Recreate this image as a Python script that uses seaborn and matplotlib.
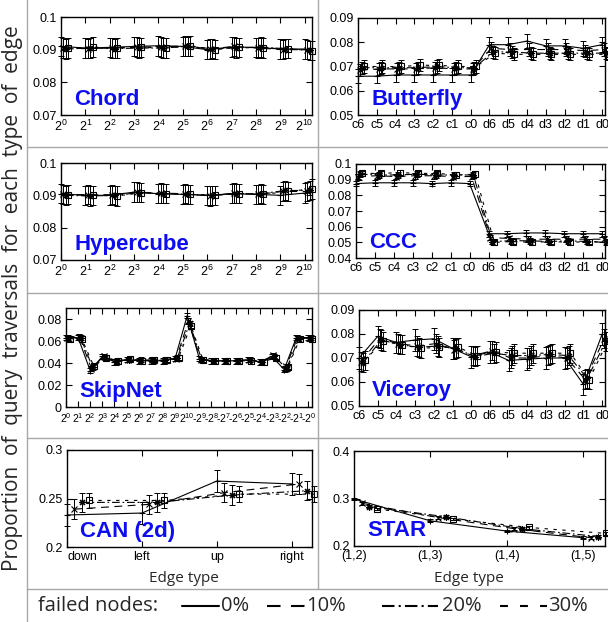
import numpy as np
import pandas as pd
import matplotlib
matplotlib.use("Agg")
import matplotlib.pyplot as plt
import seaborn as sns
from matplotlib.lines import Line2D

# ============================
# Data
# ============================

series_names = ["0%", "10%", "20%", "30%"]

pow2_labels = [r"$2^{0}$", r"$2^{1}$", r"$2^{2}$", r"$2^{3}$", r"$2^{4}$", r"$2^{5}$",
               r"$2^{6}$", r"$2^{7}$", r"$2^{8}$", r"$2^{9}$", r"$2^{10}$"]
skipnet_labels = [r"$2^{0}$", r"$2^{1}$", r"$2^{2}$", r"$2^{3}$", r"$2^{4}$", r"$2^{5}$",
                  r"$2^{6}$", r"$2^{7}$", r"$2^{8}$", r"$2^{9}$", r"$2^{10}$",
                  r"-$2^{9}$", r"-$2^{8}$", r"-$2^{7}$", r"-$2^{6}$", r"-$2^{5}$",
                  r"-$2^{4}$", r"-$2^{3}$", r"-$2^{2}$", r"-$2^{1}$", r"-$2^{0}$"]
cd_labels = ["c6", "c5", "c4", "c3", "c2", "c1", "c0", "d6", "d5", "d4", "d3", "d2", "d1", "d0"]
can_labels = ["down", "left", "up", "right"]
star_labels = ["(1,2)", "(1,3)", "(1,4)", "(1,5)"]

chord_vals = [
    [0.0910, 0.0905, 0.0907, 0.0910, 0.0912, 0.0910, 0.0900, 0.0908, 0.0907, 0.0902, 0.0902],
    [0.0905, 0.0903, 0.0905, 0.0908, 0.0908, 0.0912, 0.0902, 0.0910, 0.0905, 0.0900, 0.0900],
    [0.0902, 0.0905, 0.0903, 0.0905, 0.0905, 0.0910, 0.0903, 0.0905, 0.0908, 0.0903, 0.0898],
    [0.0905, 0.0908, 0.0905, 0.0907, 0.0905, 0.0912, 0.0900, 0.0907, 0.0905, 0.0903, 0.0897],
]
chord_err = [0.003, 0.003, 0.003, 0.003]

hypercube_vals = [
    [0.0905, 0.0900, 0.0900, 0.0910, 0.0905, 0.0903, 0.0900, 0.0905, 0.0903, 0.0900, 0.0907],
    [0.0903, 0.0902, 0.0902, 0.0910, 0.0907, 0.0905, 0.0898, 0.0907, 0.0903, 0.0912, 0.0912],
    [0.0900, 0.0898, 0.0900, 0.0908, 0.0905, 0.0903, 0.0900, 0.0905, 0.0905, 0.0915, 0.0915],
    [0.0902, 0.0900, 0.0898, 0.0908, 0.0905, 0.0903, 0.0900, 0.0905, 0.0903, 0.0912, 0.0920],
]
hypercube_err = [0.003, 0.003, 0.003, 0.003]

butterfly_vals = [
    [0.0660, 0.0660, 0.0665, 0.0665, 0.0665, 0.0665, 0.0665, 0.0790, 0.0790, 0.0805, 0.0785, 0.0785, 0.0775, 0.0790],
    [0.0685, 0.0690, 0.0690, 0.0690, 0.0695, 0.0690, 0.0690, 0.0775, 0.0770, 0.0770, 0.0770, 0.0770, 0.0765, 0.0770],
    [0.0695, 0.0695, 0.0695, 0.0695, 0.0700, 0.0695, 0.0695, 0.0760, 0.0760, 0.0755, 0.0755, 0.0755, 0.0755, 0.0755],
    [0.0700, 0.0700, 0.0700, 0.0705, 0.0705, 0.0700, 0.0700, 0.0755, 0.0750, 0.0750, 0.0750, 0.0750, 0.0750, 0.0750],
]
butterfly_err = [0.003, 0.0025, 0.0025, 0.0025]

ccc_vals = [
    [0.0875, 0.0880, 0.0880, 0.0880, 0.0875, 0.0880, 0.0875, 0.0555, 0.0555, 0.0560, 0.0560, 0.0555, 0.0555, 0.0555],
    [0.0920, 0.0925, 0.0920, 0.0925, 0.0925, 0.0920, 0.0920, 0.0530, 0.0525, 0.0520, 0.0520, 0.0520, 0.0520, 0.0520],
    [0.0935, 0.0930, 0.0930, 0.0935, 0.0930, 0.0930, 0.0930, 0.0505, 0.0510, 0.0510, 0.0505, 0.0510, 0.0505, 0.0500],
    [0.0940, 0.0940, 0.0945, 0.0940, 0.0940, 0.0930, 0.0935, 0.0500, 0.0505, 0.0500, 0.0505, 0.0500, 0.0505, 0.0500],
]
ccc_err = [0.0018, 0.0018, 0.0018, 0.0018]

skipnet_vals = [
    [0.063, 0.063, 0.033, 0.046, 0.041, 0.043, 0.042, 0.042, 0.042, 0.044, 0.083,
     0.044, 0.042, 0.042, 0.042, 0.043, 0.041, 0.046, 0.034, 0.063, 0.063],
    [0.063, 0.064, 0.035, 0.046, 0.041, 0.043, 0.042, 0.043, 0.042, 0.044, 0.078,
     0.043, 0.042, 0.042, 0.042, 0.043, 0.041, 0.047, 0.035, 0.063, 0.063],
    [0.063, 0.063, 0.036, 0.045, 0.042, 0.043, 0.043, 0.042, 0.043, 0.045, 0.076,
     0.043, 0.042, 0.042, 0.042, 0.043, 0.041, 0.046, 0.035, 0.062, 0.063],
    [0.062, 0.062, 0.037, 0.045, 0.042, 0.044, 0.042, 0.043, 0.043, 0.045, 0.074,
     0.043, 0.042, 0.042, 0.042, 0.042, 0.041, 0.045, 0.036, 0.062, 0.062],
]
skipnet_err = [0.0025, 0.0025, 0.0025, 0.0025]

viceroy_vals = [
    [0.0700, 0.0790, 0.0765, 0.0775, 0.0780, 0.0740, 0.0705, 0.0725, 0.0690, 0.0695, 0.0700, 0.0700, 0.0590, 0.0800],
    [0.0685, 0.0780, 0.0760, 0.0750, 0.0760, 0.0735, 0.0710, 0.0730, 0.0700, 0.0700, 0.0710, 0.0700, 0.0610, 0.0780],
    [0.0680, 0.0775, 0.0755, 0.0745, 0.0750, 0.0740, 0.0705, 0.0720, 0.0710, 0.0710, 0.0715, 0.0710, 0.0615, 0.0770],
    [0.0690, 0.0770, 0.0755, 0.0740, 0.0745, 0.0745, 0.0710, 0.0725, 0.0720, 0.0720, 0.0720, 0.0720, 0.0610, 0.0770],
]
viceroy_err = [0.0045, 0.004, 0.004, 0.004]

can_vals = [
    [0.233, 0.235, 0.268, 0.265],
    [0.239, 0.244, 0.256, 0.265],
    [0.246, 0.246, 0.2535, 0.258],
    [0.248, 0.248, 0.2545, 0.2545],
]
can_err = [0.011, 0.01, 0.01, 0.008]

star_vals = [
    [0.299, 0.253, 0.2315, 0.2175],
    [0.290, 0.260, 0.2365, 0.2175],
    [0.283, 0.2615, 0.2365, 0.220],
    [0.278, 0.257, 0.239, 0.2265],
]
star_err = [0.003, 0.003, 0.003, 0.003]

# ============================
# Styling
# ============================

W, H = 608, 622
X_SHIFT = [0.0, 0.1, 0.2, 0.3]
LINE_STYLES = ["-", (0, (7, 5)), (0, (7, 2.5, 1.5, 2.5)), (0, (3, 5))]
MARKERS = ["+", "x", (8, 2, 0), "s"]
TITLE_BLUE = "#0d0df0"
GRID_GRAY = "#a8a8a8"

sns.set_theme(style="ticks")
plt.rcParams["font.family"] = ["Liberation Sans", "DejaVu Sans"]
plt.rcParams["mathtext.default"] = "regular"
plt.rcParams["axes.linewidth"] = 1.0

fig = plt.figure(figsize=(W / 100, H / 100), dpi=100)


def px_axes(left, top, right, bottom):
    """Add an axes given its box in pixel coordinates (origin top-left)."""
    return fig.add_axes([left / W, 1 - bottom / H, (right - left) / W, (bottom - top) / H])


def fmt_num(v, pos):
    return f"{round(v, 4):g}"


def draw_panel(box, name, labels, vals, errs, ylim, yticks, xmax, xlabelsize=9):
    ax = px_axes(*box)
    base = np.arange(len(labels))
    for i, series in enumerate(series_names):
        x = base + X_SHIFT[i]
        df = pd.DataFrame({"x": x, "y": vals[i]})
        sns.lineplot(data=df, x="x", y="y", ax=ax, color="black", linewidth=0.8,
                     linestyle=LINE_STYLES[i], marker=MARKERS[i], markersize=5,
                     mfc="none", mec="black", mew=0.8, errorbar=None,
                     legend=False, clip_on=False)
        ax.errorbar(x, vals[i], yerr=errs[i], fmt="none", ecolor="black",
                    elinewidth=0.7, capsize=2.2, capthick=0.7, clip_on=False)
    ax.set_xlim(0, xmax)
    ax.set_ylim(*ylim)
    ax.set_yticks(yticks)
    ax.yaxis.set_major_formatter(plt.FuncFormatter(fmt_num))
    ax.set_xticks(base)
    ax.set_xticklabels(labels)
    ax.set_xlabel("")
    ax.set_ylabel("")
    ax.tick_params(direction="in", top=True, right=True, length=4, width=0.8,
                   labelsize=9, pad=3, colors="black")
    ax.tick_params(axis="x", labelsize=xlabelsize)
    for s in ax.spines.values():
        s.set_color("black")
    ax.annotate(name, xy=(0, 0), xycoords="axes fraction", xytext=(9.5, 7.5),
                textcoords="offset points", fontsize=16, fontweight="bold",
                color=TITLE_BLUE, ha="left", va="baseline")
    return ax


draw_panel((61, 17, 312, 115), "Chord", pow2_labels, chord_vals, chord_err,
           (0.07, 0.1), [0.07, 0.08, 0.09, 0.1], 10.3)
draw_panel((358, 18, 605, 115), "Butterfly", cd_labels, butterfly_vals, butterfly_err,
           (0.05, 0.09), [0.05, 0.06, 0.07, 0.08, 0.09], 13.15)
draw_panel((61, 163, 312, 260), "Hypercube", pow2_labels, hypercube_vals, hypercube_err,
           (0.07, 0.1), [0.07, 0.08, 0.09, 0.1], 10.3)
draw_panel((356, 164, 605, 258), "CCC", cd_labels, ccc_vals, ccc_err,
           (0.04, 0.1), [0.04, 0.05, 0.06, 0.07, 0.08, 0.09, 0.1], 13.15)
draw_panel((66, 308, 312, 407), "SkipNet", skipnet_labels, skipnet_vals, skipnet_err,
           (0, 0.09), [0, 0.02, 0.04, 0.06, 0.08], 20.3, xlabelsize=7.5)
draw_panel((359, 310, 605, 406), "Viceroy", cd_labels, viceroy_vals, viceroy_err,
           (0.05, 0.09), [0.05, 0.06, 0.07, 0.08, 0.09], 13.15)
ax_can = draw_panel((67, 450, 312, 547), "CAN (2d)", can_labels, can_vals, can_err,
                    (0.2, 0.3), [0.2, 0.25, 0.3], 3.27)
ax_star = draw_panel((354, 451, 605, 546), "STAR", star_labels, star_vals, star_err,
                     (0.2, 0.4), [0.2, 0.3, 0.4], 3.29)
ax_can.get_xticklabels()[0].set_horizontalalignment("left")

# ============================
# Table frame, shared labels and legend
# ============================

def hline(y, x0=27, x1=W):
    fig.add_artist(Line2D([x0 / W, x1 / W], [1 - y / H, 1 - y / H],
                          transform=fig.transFigure, color=GRID_GRAY, lw=1.0))


def vline(x, y0=0, y1=H):
    fig.add_artist(Line2D([x / W, x / W], [1 - y0 / H, 1 - y1 / H],
                          transform=fig.transFigure, color=GRID_GRAY, lw=1.0))


for y in [147, 293, 438, 589]:
    hline(y)
vline(27)
vline(318, 0, 589)

text_font = ["Open Sans", "DejaVu Sans"]
fig.text(13 / W, 1 - 298 / H, "Proportion  of  query  traversals  for  each  type  of  edge",
         rotation=90, ha="center", va="center", fontsize=15, family=text_font)
fig.text(184 / W, 1 - 579 / H, "Edge type", ha="center", va="center", fontsize=11,
         family=text_font)
fig.text(469 / W, 1 - 579 / H, "Edge type", ha="center", va="center", fontsize=11,
         family=text_font)

ly = 1 - 606 / H
fig.text(38 / W, ly, "failed nodes:", ha="left", va="center", fontsize=14.5, family=text_font)
legend_items = [(182, 219, 221), (267, 306, 306), (382, 438, 442), (500, 547, 548)]
legend_dashes = ["-", (0, (6.5, 5)), (0, (6, 2, 1, 2)), (0, (3.8, 5.8))]
for (x0, x1, tx), ls, lab in zip(legend_items, legend_dashes, series_names):
    fig.add_artist(Line2D([x0 / W, x1 / W], [ly, ly], transform=fig.transFigure,
                          color="black", lw=1.5, linestyle=ls))
    fig.text(tx / W, ly, lab, ha="left", va="center", fontsize=14.5, family=text_font)

fig.savefig("out.png", dpi=100)
